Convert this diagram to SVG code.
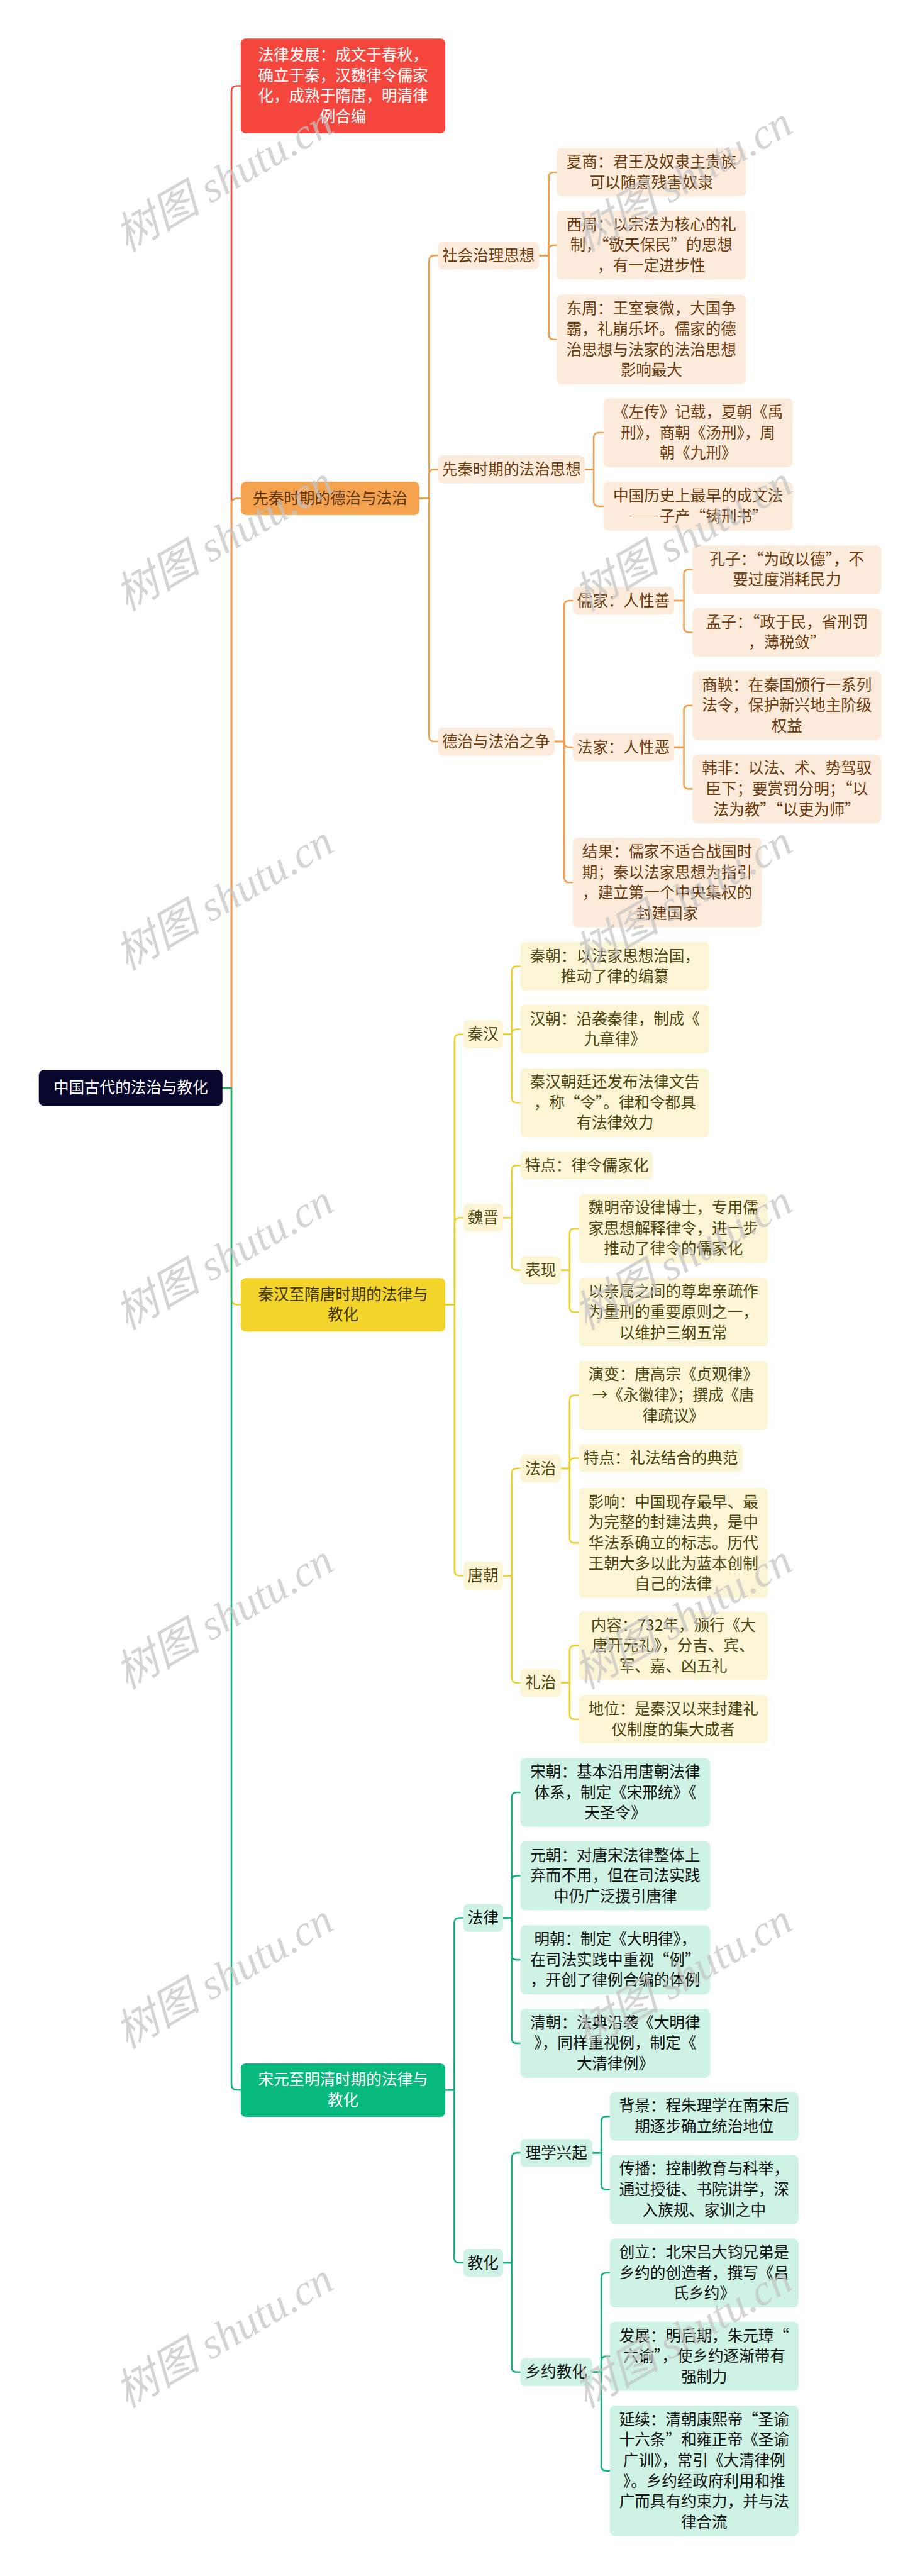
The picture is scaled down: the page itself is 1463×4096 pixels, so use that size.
<svg xmlns="http://www.w3.org/2000/svg" width="1463" height="4096" viewBox="0 0 1463 4096">
<style>
.t{font-family:"Noto Sans CJK SC","Noto Sans",sans-serif;font-size:43px;text-anchor:middle}
.q{font-feature-settings:"fwid" 1}
.root rect{fill:#08082f}.root text{fill:#fff}
.red rect{fill:#f5463d}.red text{fill:#fff}
.ol rect{fill:#f5a24f}.ol text{fill:#5a3209}
.o rect{fill:#fcebdb}.o text{fill:#6b3a0d}
.yl rect{fill:#f2d42b}.yl text{fill:#3f3608}
.y rect{fill:#fcf5d5}.y text{fill:#4d4510}
.gl rect{fill:#07b97d}.gl text{fill:#fff}
.g rect{fill:#cef2e3}.g text{fill:#111}
#connectors path{fill:none;stroke-width:4.5;stroke-linecap:round;stroke-linejoin:round}
.cr path{stroke:#f5463d}.co path{stroke:#f29e4c}.cy path{stroke:#efcf2c}.cg path{stroke:#12b27e}
.wm{font-family:"Liberation Serif","Noto Sans CJK SC",serif;font-style:italic;font-size:120px;fill:#c4c4c4;fill-opacity:0.72}
</style>
<rect width="1463" height="4096" fill="#fff"/>
<g transform="scale(0.571484375)">
<g id="connectors">
<g class="cr">
<path d="M619 3027 H644 V255 Q644 239 660 239 H670"/>
</g>
<g class="co">
<path d="M619 3027 H644 V1403 Q644 1387 660 1387 H670"/>
<path d="M1167 1387 H1194 V725 Q1194 711 1208 711 H1218"/>
<path d="M1167 1387 H1194 V1320 Q1194 1306 1208 1306 H1218"/>
<path d="M1167 1387 H1194 V2049 Q1194 2063 1208 2063 H1218"/>
<path d="M1500 711 H1527 V493.5 Q1527 479.5 1541 479.5 H1549"/>
<path d="M1500 711 H1527 V696 Q1527 682 1541 682 H1549"/>
<path d="M1500 711 H1527 V930.5 Q1527 944.5 1541 944.5 H1549"/>
<path d="M1628 1306 H1652 V1218 Q1652 1204 1666 1204 H1679"/>
<path d="M1628 1306 H1652 V1394.5 Q1652 1408.5 1666 1408.5 H1679"/>
<path d="M1543 2063 H1570 V1685 Q1570 1671 1584 1671 H1594"/>
<path d="M1543 2063 H1570 V2065 Q1570 2079 1584 2079 H1594"/>
<path d="M1543 2063 H1570 V2441.5 Q1570 2455.5 1584 2455.5 H1594"/>
<path d="M1876 1671 H1903 V1598.5 Q1903 1584.5 1917 1584.5 H1927"/>
<path d="M1876 1671 H1903 V1745.5 Q1903 1759.5 1917 1759.5 H1927"/>
<path d="M1876 2079 H1903 V1977 Q1903 1963 1917 1963 H1927"/>
<path d="M1876 2079 H1903 V2181 Q1903 2195 1917 2195 H1927"/>
</g>
<g class="cy">
<path d="M619 3027 H644 V3614 Q644 3630 660 3630 H670"/>
<path d="M1239 3630 H1265 V2892 Q1265 2878 1279 2878 H1289"/>
<path d="M1239 3630 H1265 V3402 Q1265 3388 1279 3388 H1289"/>
<path d="M1239 3630 H1265 V4370 Q1265 4384 1279 4384 H1289"/>
<path d="M1400 2878 H1424 V2702.5 Q1424 2688.5 1438 2688.5 H1448"/>
<path d="M1400 2878 H1424 V2877.5 Q1424 2863.5 1438 2863.5 H1448"/>
<path d="M1400 2878 H1424 V3054 Q1424 3068 1438 3068 H1448"/>
<path d="M1400 3388 H1424 V3257 Q1424 3243 1438 3243 H1448"/>
<path d="M1400 3388 H1424 V3520 Q1424 3534 1438 3534 H1448"/>
<path d="M1561 3534 H1585 V3432 Q1585 3418 1599 3418 H1610"/>
<path d="M1561 3534 H1585 V3637 Q1585 3651 1599 3651 H1610"/>
<path d="M1400 4384 H1424 V4100 Q1424 4086 1438 4086 H1448"/>
<path d="M1400 4384 H1424 V4668 Q1424 4682 1438 4682 H1448"/>
<path d="M1561 4086 H1585 V3896 Q1585 3882 1599 3882 H1610"/>
<path d="M1561 4086 H1585 V4071 Q1585 4057 1599 4057 H1610"/>
<path d="M1561 4086 H1585 V4279 Q1585 4293 1599 4293 H1610"/>
<path d="M1561 4682 H1585 V4593 Q1585 4579 1599 4579 H1610"/>
<path d="M1561 4682 H1585 V4769.5 Q1585 4783.5 1599 4783.5 H1610"/>
</g>
<g class="cg">
<path d="M619 3027 H644 V5799 Q644 5815 660 5815 H670"/>
<path d="M1239 5815 H1264 V5350 Q1264 5336 1278 5336 H1289"/>
<path d="M1239 5815 H1264 V6282 Q1264 6296 1278 6296 H1289"/>
<path d="M1400 5336 H1424 V5001 Q1424 4987 1438 4987 H1448"/>
<path d="M1400 5336 H1424 V5233 Q1424 5219 1438 5219 H1448"/>
<path d="M1400 5336 H1424 V5439 Q1424 5453 1438 5453 H1448"/>
<path d="M1400 5336 H1424 V5671 Q1424 5685 1438 5685 H1448"/>
<path d="M1400 6296 H1424 V6004 Q1424 5990 1438 5990 H1448"/>
<path d="M1400 6296 H1424 V6586 Q1424 6600 1438 6600 H1448"/>
<path d="M1648 5990 H1673 V5902.5 Q1673 5888.5 1687 5888.5 H1697"/>
<path d="M1648 5990 H1673 V6078 Q1673 6092 1687 6092 H1697"/>
<path d="M1648 6600 H1673 V6338 Q1673 6324 1687 6324 H1697"/>
<path d="M1648 6600 H1673 V6570 Q1673 6556 1687 6556 H1697"/>
<path d="M1648 6600 H1673 V6860.5 Q1673 6874.5 1687 6874.5 H1697"/>
</g>
</g>

<g id="root" class="root"><rect x="108" y="2977" width="511" height="100" rx="14"/><text class="t" x="363.5" y="3042">中国古代的法治与教化</text></g>

<g id="n-law-dev" class="red"><rect x="670" y="107" width="569" height="264" rx="14"/><text class="t"><tspan x="954.5" y="168.5">法律发展：成文于春秋，</tspan><tspan x="954.5" y="225.5">确立于秦，汉魏律令儒家</tspan><tspan x="954.5" y="282.5">化，成熟于隋唐，明清律</tspan><tspan x="954.5" y="339.5">例合编</tspan></text></g>

<g id="n-xianqin" class="ol"><rect x="670" y="1341" width="497" height="92" rx="14"/><text class="t" x="918.5" y="1402">先秦时期的德治与法治</text></g>
<g id="n-shehui" class="o"><rect x="1218" y="672" width="282" height="78" rx="14"/><text class="t" x="1359" y="726">社会治理思想</text></g>
<g id="n-xiashang" class="o"><rect x="1549" y="412" width="527" height="135" rx="14"/><text class="t"><tspan x="1812.5" y="466">夏商：君王及奴隶主贵族</tspan><tspan x="1812.5" y="523">可以随意残害奴隶</tspan></text></g>
<g id="n-xizhou" class="o"><rect x="1549" y="586" width="527" height="192" rx="14"/><text class="t"><tspan x="1812.5" y="640">西周：以宗法为核心的礼</tspan><tspan class="q" x="1812.5" y="697">制，“敬天保民”的思想</tspan><tspan x="1812.5" y="754">，有一定进步性</tspan></text></g>
<g id="n-dongzhou" class="o"><rect x="1549" y="820" width="527" height="249" rx="14"/><text class="t"><tspan x="1812.5" y="874">东周：王室衰微，大国争</tspan><tspan x="1812.5" y="931">霸，礼崩乐坏。儒家的德</tspan><tspan x="1812.5" y="988">治思想与法家的法治思想</tspan><tspan x="1812.5" y="1045">影响最大</tspan></text></g>
<g id="n-fazhisixiang" class="o"><rect x="1218" y="1267" width="410" height="78" rx="14"/><text class="t" x="1423" y="1321">先秦时期的法治思想</text></g>
<g id="n-zuozhuan" class="o"><rect x="1679" y="1108" width="527" height="192" rx="14"/><text class="t"><tspan x="1942.5" y="1162">《左传》记载，夏朝《禹</tspan><tspan x="1942.5" y="1219">刑》，商朝《汤刑》，周</tspan><tspan x="1942.5" y="1276">朝《九刑》</tspan></text></g>
<g id="n-chengwenfa" class="o"><rect x="1679" y="1341" width="527" height="135" rx="14"/><text class="t"><tspan x="1942.5" y="1395">中国历史上最早的成文法</tspan><tspan class="q" x="1942.5" y="1452">——子产“铸刑书”</tspan></text></g>
<g id="n-dezheng" class="o"><rect x="1218" y="2024" width="325" height="78" rx="14"/><text class="t" x="1380.5" y="2078">德治与法治之争</text></g>
<g id="n-rujia" class="o"><rect x="1594" y="1632" width="282" height="78" rx="14"/><text class="t" x="1735" y="1686">儒家：人性善</text></g>
<g id="n-kongzi" class="o"><rect x="1927" y="1517" width="525" height="135" rx="14"/><text class="t"><tspan class="q" x="2189.5" y="1571">孔子：“为政以德”，不</tspan><tspan x="2189.5" y="1628">要过度消耗民力</tspan></text></g>
<g id="n-mengzi" class="o"><rect x="1927" y="1692" width="525" height="135" rx="14"/><text class="t"><tspan class="q" x="2189.5" y="1746">孟子：“政于民，省刑罚</tspan><tspan class="q" x="2189.5" y="1803">，薄税敛”</tspan></text></g>
<g id="n-fajia" class="o"><rect x="1594" y="2040" width="282" height="78" rx="14"/><text class="t" x="1735" y="2094">法家：人性恶</text></g>
<g id="n-shangyang" class="o"><rect x="1927" y="1867" width="525" height="192" rx="14"/><text class="t"><tspan x="2189.5" y="1921">商鞅：在秦国颁行一系列</tspan><tspan x="2189.5" y="1978">法令，保护新兴地主阶级</tspan><tspan x="2189.5" y="2035">权益</tspan></text></g>
<g id="n-hanfei" class="o"><rect x="1927" y="2099" width="525" height="192" rx="14"/><text class="t"><tspan x="2189.5" y="2153">韩非：以法、术、势驾驭</tspan><tspan class="q" x="2189.5" y="2210">臣下；要赏罚分明；“以</tspan><tspan class="q" x="2189.5" y="2267">法为教”“以吏为师”</tspan></text></g>
<g id="n-jieguo" class="o"><rect x="1594" y="2331" width="525" height="249" rx="14"/><text class="t"><tspan x="1856.5" y="2385">结果：儒家不适合战国时</tspan><tspan x="1856.5" y="2442">期；秦以法家思想为指引</tspan><tspan x="1856.5" y="2499">，建立第一个中央集权的</tspan><tspan x="1856.5" y="2556">封建国家</tspan></text></g>

<g id="n-qinhan-suitang" class="yl"><rect x="670" y="3556" width="569" height="149" rx="14"/><text class="t"><tspan x="954.5" y="3616.5">秦汉至隋唐时期的法律与</tspan><tspan x="954.5" y="3673.5">教化</tspan></text></g>
<g id="n-qinhan" class="y"><rect x="1289" y="2839" width="111" height="78" rx="14"/><text class="t" x="1344.5" y="2893">秦汉</text></g>
<g id="n-qinchao" class="y"><rect x="1448" y="2621" width="526" height="135" rx="14"/><text class="t"><tspan x="1711" y="2675">秦朝：以法家思想治国，</tspan><tspan x="1711" y="2732">推动了律的编纂</tspan></text></g>
<g id="n-hanchao" class="y"><rect x="1448" y="2796" width="526" height="135" rx="14"/><text class="t"><tspan x="1711" y="2850">汉朝：沿袭秦律，制成《</tspan><tspan x="1711" y="2907">九章律》</tspan></text></g>
<g id="n-ling" class="y"><rect x="1448" y="2972" width="526" height="192" rx="14"/><text class="t"><tspan x="1711" y="3026">秦汉朝廷还发布法律文告</tspan><tspan class="q" x="1711" y="3083">，称“令”。律和令都具</tspan><tspan x="1711" y="3140">有法律效力</tspan></text></g>
<g id="n-weijin" class="y"><rect x="1289" y="3349" width="111" height="78" rx="14"/><text class="t" x="1344.5" y="3403">魏晋</text></g>
<g id="n-wj-tedian" class="y"><rect x="1448" y="3204" width="369" height="78" rx="14"/><text class="t" x="1632.5" y="3258">特点：律令儒家化</text></g>
<g id="n-biaoxian" class="y"><rect x="1448" y="3495" width="113" height="78" rx="14"/><text class="t" x="1504.5" y="3549">表现</text></g>
<g id="n-weimingdi" class="y"><rect x="1610" y="3322" width="527" height="192" rx="14"/><text class="t"><tspan x="1873.5" y="3376">魏明帝设律博士，专用儒</tspan><tspan x="1873.5" y="3433">家思想解释律令，进一步</tspan><tspan x="1873.5" y="3490">推动了律令的儒家化</tspan></text></g>
<g id="n-qinshu" class="y"><rect x="1610" y="3555" width="527" height="192" rx="14"/><text class="t"><tspan x="1873.5" y="3609">以亲属之间的尊卑亲疏作</tspan><tspan x="1873.5" y="3666">为量刑的重要原则之一，</tspan><tspan x="1873.5" y="3723">以维护三纲五常</tspan></text></g>
<g id="n-tangchao" class="y"><rect x="1289" y="4345" width="111" height="78" rx="14"/><text class="t" x="1344.5" y="4399">唐朝</text></g>
<g id="n-fazhi" class="y"><rect x="1448" y="4047" width="113" height="78" rx="14"/><text class="t" x="1504.5" y="4101">法治</text></g>
<g id="n-yanbian" class="y"><rect x="1610" y="3786" width="527" height="192" rx="14"/><text class="t"><tspan x="1873.5" y="3840">演变：唐高宗《贞观律》</tspan><tspan x="1873.5" y="3897">→《永徽律》；撰成《唐</tspan><tspan x="1873.5" y="3954">律疏议》</tspan></text></g>
<g id="n-tang-tedian" class="y"><rect x="1610" y="4018" width="457" height="78" rx="14"/><text class="t" x="1838.5" y="4072">特点：礼法结合的典范</text></g>
<g id="n-yingxiang" class="y"><rect x="1610" y="4140" width="527" height="306" rx="14"/><text class="t"><tspan x="1873.5" y="4194">影响：中国现存最早、最</tspan><tspan x="1873.5" y="4251">为完整的封建法典，是中</tspan><tspan x="1873.5" y="4308">华法系确立的标志。历代</tspan><tspan x="1873.5" y="4365">王朝大多以此为蓝本创制</tspan><tspan x="1873.5" y="4422">自己的法律</tspan></text></g>
<g id="n-lizhi" class="y"><rect x="1448" y="4643" width="113" height="78" rx="14"/><text class="t" x="1504.5" y="4697">礼治</text></g>
<g id="n-neirong" class="y"><rect x="1610" y="4483" width="527" height="192" rx="14"/><text class="t"><tspan x="1873.5" y="4537">内容：732年，颁行《大</tspan><tspan x="1873.5" y="4594">唐开元礼》，分吉、宾、</tspan><tspan x="1873.5" y="4651">军、嘉、凶五礼</tspan></text></g>
<g id="n-diwei" class="y"><rect x="1610" y="4716" width="527" height="135" rx="14"/><text class="t"><tspan x="1873.5" y="4770">地位：是秦汉以来封建礼</tspan><tspan x="1873.5" y="4827">仪制度的集大成者</tspan></text></g>

<g id="n-songyuan-mingqing" class="gl"><rect x="670" y="5741" width="569" height="149" rx="14"/><text class="t"><tspan x="954.5" y="5801.5">宋元至明清时期的法律与</tspan><tspan x="954.5" y="5858.5">教化</tspan></text></g>
<g id="n-falv" class="g"><rect x="1289" y="5297" width="111" height="78" rx="14"/><text class="t" x="1344.5" y="5351">法律</text></g>
<g id="n-songchao" class="g"><rect x="1448" y="4891" width="528" height="192" rx="14"/><text class="t"><tspan x="1712" y="4945">宋朝：基本沿用唐朝法律</tspan><tspan x="1712" y="5002">体系，制定《宋邢统》《</tspan><tspan x="1712" y="5059">天圣令》</tspan></text></g>
<g id="n-yuanchao" class="g"><rect x="1448" y="5123" width="528" height="192" rx="14"/><text class="t"><tspan x="1712" y="5177">元朝：对唐宋法律整体上</tspan><tspan x="1712" y="5234">弃而不用，但在司法实践</tspan><tspan x="1712" y="5291">中仍广泛援引唐律</tspan></text></g>
<g id="n-mingchao" class="g"><rect x="1448" y="5357" width="528" height="192" rx="14"/><text class="t"><tspan x="1712" y="5411">明朝：制定《大明律》，</tspan><tspan class="q" x="1712" y="5468">在司法实践中重视“例”</tspan><tspan x="1712" y="5525">，开创了律例合编的体例</tspan></text></g>
<g id="n-qingchao" class="g"><rect x="1448" y="5589" width="528" height="192" rx="14"/><text class="t"><tspan x="1712" y="5643">清朝：法典沿袭《大明律</tspan><tspan x="1712" y="5700">》，同样重视例，制定《</tspan><tspan x="1712" y="5757">大清律例》</tspan></text></g>
<g id="n-jiaohua" class="g"><rect x="1289" y="6257" width="111" height="78" rx="14"/><text class="t" x="1344.5" y="6311">教化</text></g>
<g id="n-lixue" class="g"><rect x="1448" y="5951" width="200" height="78" rx="14"/><text class="t" x="1548" y="6005">理学兴起</text></g>
<g id="n-beijing" class="g"><rect x="1697" y="5821" width="525" height="135" rx="14"/><text class="t"><tspan x="1959.5" y="5875">背景：程朱理学在南宋后</tspan><tspan x="1959.5" y="5932">期逐步确立统治地位</tspan></text></g>
<g id="n-chuanbo" class="g"><rect x="1697" y="5996" width="525" height="192" rx="14"/><text class="t"><tspan x="1959.5" y="6050">传播：控制教育与科举，</tspan><tspan x="1959.5" y="6107">通过授徒、书院讲学，深</tspan><tspan x="1959.5" y="6164">入族规、家训之中</tspan></text></g>
<g id="n-xiangyue" class="g"><rect x="1448" y="6561" width="200" height="78" rx="14"/><text class="t" x="1548" y="6615">乡约教化</text></g>
<g id="n-chuangli" class="g"><rect x="1697" y="6228" width="525" height="192" rx="14"/><text class="t"><tspan x="1959.5" y="6282">创立：北宋吕大钧兄弟是</tspan><tspan x="1959.5" y="6339">乡约的创造者，撰写《吕</tspan><tspan x="1959.5" y="6396">氏乡约》</tspan></text></g>
<g id="n-fazhan" class="g"><rect x="1697" y="6460" width="525" height="192" rx="14"/><text class="t"><tspan class="q" x="1959.5" y="6514">发展：明后期，朱元璋“</tspan><tspan class="q" x="1959.5" y="6571">六谕”，使乡约逐渐带有</tspan><tspan x="1959.5" y="6628">强制力</tspan></text></g>
<g id="n-yanxu" class="g"><rect x="1697" y="6693" width="525" height="363" rx="14"/><text class="t"><tspan class="q" x="1959.5" y="6747">延续：清朝康熙帝“圣谕</tspan><tspan class="q" x="1959.5" y="6804">十六条”和雍正帝《圣谕</tspan><tspan x="1959.5" y="6861">广训》，常引《大清律例</tspan><tspan x="1959.5" y="6918">》。乡约经政府利用和推</tspan><tspan x="1959.5" y="6975">广而具有约束力，并与法</tspan><tspan x="1959.5" y="7032">律合流</tspan></text></g>

<g id="watermarks">
<text class="wm" transform="translate(352 702) rotate(-30)">树图 shutu.cn</text>
<text class="wm" transform="translate(1629 702) rotate(-30)">树图 shutu.cn</text>
<text class="wm" transform="translate(352 1702) rotate(-30)">树图 shutu.cn</text>
<text class="wm" transform="translate(1629 1702) rotate(-30)">树图 shutu.cn</text>
<text class="wm" transform="translate(352 2702) rotate(-30)">树图 shutu.cn</text>
<text class="wm" transform="translate(1629 2702) rotate(-30)">树图 shutu.cn</text>
<text class="wm" transform="translate(352 3702) rotate(-30)">树图 shutu.cn</text>
<text class="wm" transform="translate(1629 3702) rotate(-30)">树图 shutu.cn</text>
<text class="wm" transform="translate(352 4702) rotate(-30)">树图 shutu.cn</text>
<text class="wm" transform="translate(1629 4702) rotate(-30)">树图 shutu.cn</text>
<text class="wm" transform="translate(352 5702) rotate(-30)">树图 shutu.cn</text>
<text class="wm" transform="translate(1629 5702) rotate(-30)">树图 shutu.cn</text>
<text class="wm" transform="translate(352 6702) rotate(-30)">树图 shutu.cn</text>
<text class="wm" transform="translate(1629 6702) rotate(-30)">树图 shutu.cn</text>
</g>
</g>
</svg>
